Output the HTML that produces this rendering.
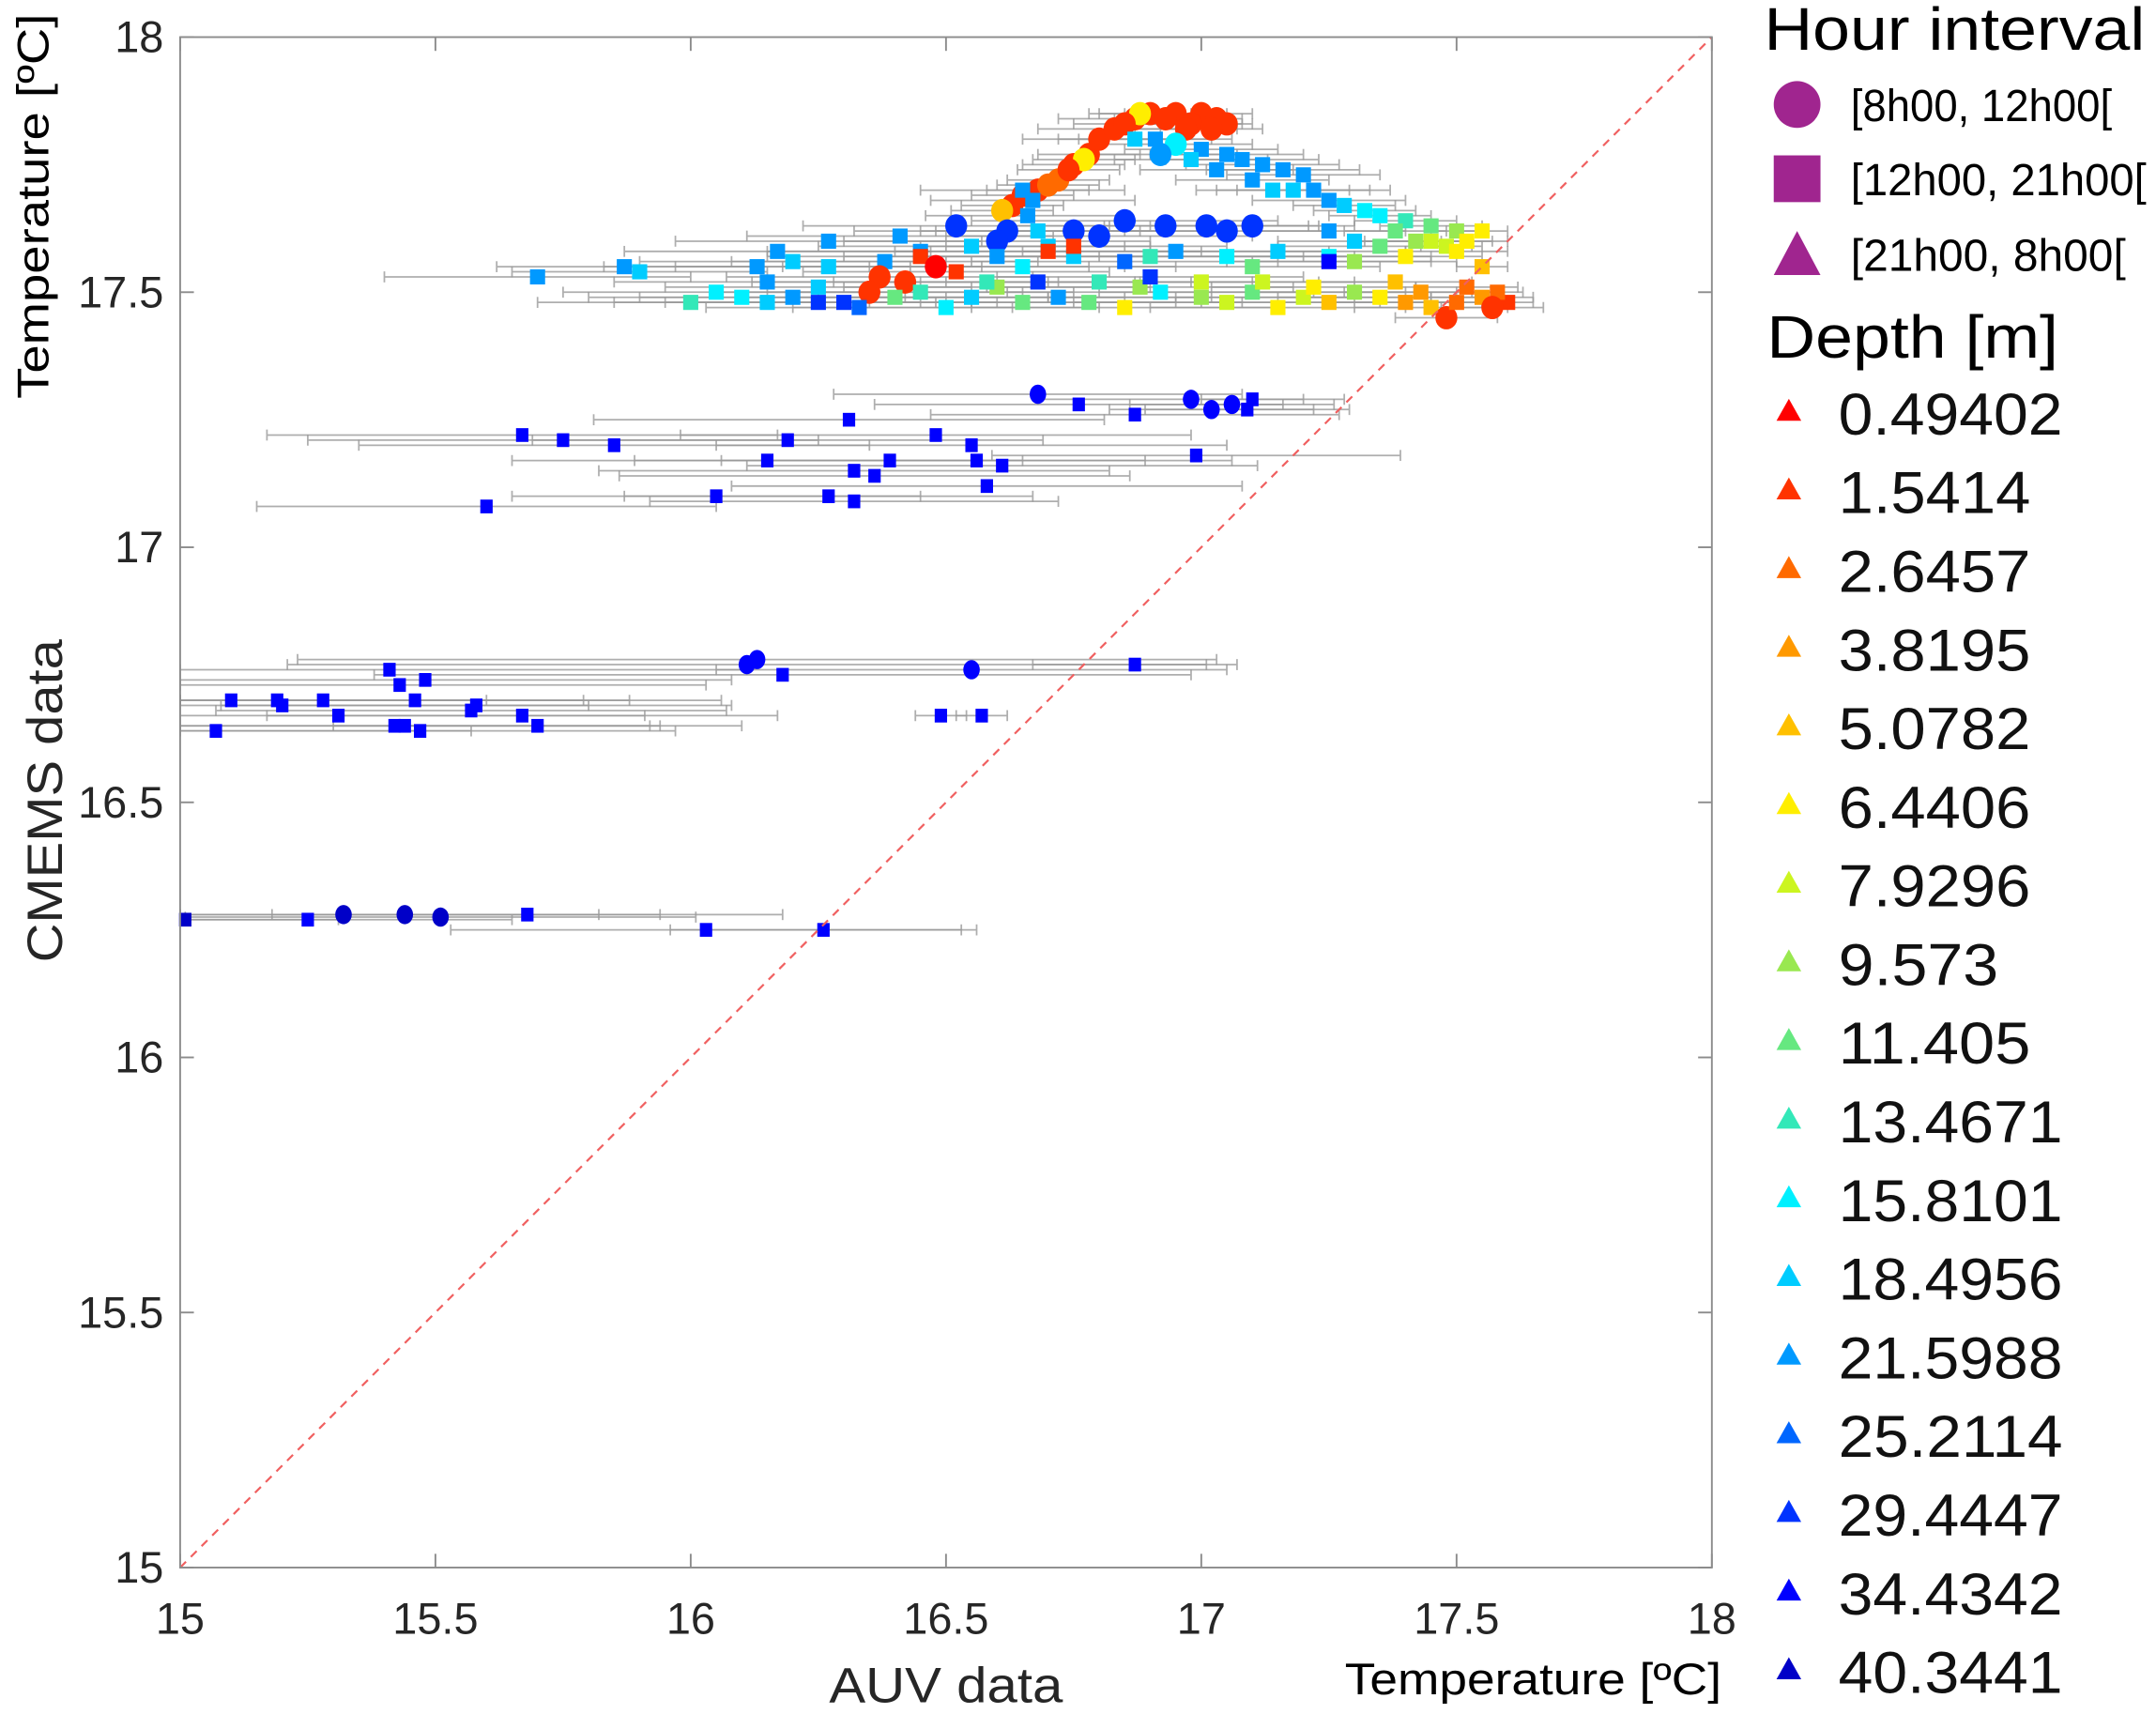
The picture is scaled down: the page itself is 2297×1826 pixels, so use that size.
<!DOCTYPE html>
<html><head><meta charset="utf-8"><style>
html,body{margin:0;padding:0;background:#fff;}
svg{display:block;font-family:"Liberation Sans",Arial,sans-serif;}
</style></head><body>
<svg id="chart" width="2297" height="1826" viewBox="0 0 1568 1246.5" xmlns="http://www.w3.org/2000/svg">
<g id="errs"></g>
<g id="marks"></g>
<g id="axes"></g>
<g id="legend"></g>
</svg>
<script>
const depthLabels=["0.49402","1.5414","2.6457","3.8195","5.0782","6.4406","7.9296","9.573","11.405","13.4671","15.8101","18.4956","21.5988","25.2114","29.4447","34.4342","40.3441"];
const depthColors=["#ff0000","#ff3300","#ff6a00","#ff9900","#ffc000","#ffee00","#ccf520","#99e850","#66e880","#33e8b8","#00f0ff","#00ccff","#0099ff","#0066ff","#0033ff","#0000ff","#0000c8"];
const xTicks=[15,15.5,16,16.5,17,17.5,18];
const yTicks=[15,15.5,16,16.5,17,17.5,18];
const xTickLabels=["15","15.5","16","16.5","17","17.5","18"];
const yTickLabels=["15","15.5","16","16.5","17","17.5","18"];
// AUV (x) values
const auvVals=[
15.01,15.25,15.32,15.44,15.51,15.68,16.03,16.26,
15.07,15.10,15.19,15.20,15.28,15.31,15.41,15.43,15.42,15.44,15.46,15.48,15.47,15.57,15.58,15.67,15.70,16.11,16.13,16.18,16.55,16.49,16.57,16.87,
15.60,15.67,15.75,15.85,16.05,16.15,16.19,16.27,16.31,16.32,16.32,16.36,16.39,16.48,16.55,16.56,16.58,16.61,16.68,16.76,16.87,16.98,16.99,17.02,17.06,17.09,17.10,
16.63,16.65,16.68,16.72,16.75,16.78,16.80,16.83,16.87,16.90,16.95,17.00,17.03,17.05,16.93,16.98,16.88,16.77,16.61,16.70,16.74,16.85,16.97,17.02,
16.87,16.91,16.95,17.00,17.05,17.08,17.12,17.16,17.20,17.18,17.22,17.25,17.28,17.32,17.35,17.40,17.45,17.50,17.55,17.25,17.30,16.92,16.98,17.03,17.10,17.14,17.38,17.42,17.48,17.52,
16.65,16.67,16.68,16.70,16.66,
16.52,16.62,16.75,16.85,16.93,17.01,17.05,17.10,16.60,16.80,
15.70,15.87,15.90,16.13,16.17,16.27,16.27,16.38,16.41,16.55,16.60,16.75,16.85,16.95,17.05,17.15,17.25,17.35,17.45,17.50,16.20,16.45,16.65,16.90,17.10,17.30,17.40,17.55,
16.37,16.35,16.45,16.70,16.75,16.48,16.42,16.52,
16.00,16.05,16.15,16.20,16.30,16.33,16.40,16.45,16.50,16.55,16.65,16.72,16.78,16.85,16.92,17.00,17.05,17.10,17.15,17.20,17.25,17.30,17.35,17.40,17.45,17.48,17.50,17.55,17.60,17.58,17.00,16.80,16.60,16.15,16.10,16.25,16.58,16.88,17.12,17.22,17.38,17.43,17.52,17.57,
16.68,16.90,17.25,16.25];
// CMEMS (y) values
const cmemsVals=[
16.27,16.27,16.28,16.28,16.275,16.28,16.25,16.25,
16.64,16.70,16.70,16.69,16.70,16.67,16.76,16.73,16.65,16.65,16.70,16.74,16.64,16.68,16.69,16.67,16.65,16.77,16.78,16.75,16.76,16.67,16.67,16.77,
17.08,17.22,17.21,17.20,17.10,17.17,17.21,17.10,17.25,17.15,17.09,17.14,17.17,17.22,17.20,17.17,17.12,17.16,17.30,17.28,17.26,17.29,17.18,17.27,17.28,17.27,17.29,
17.67,17.69,17.70,17.72,17.75,17.77,17.80,17.82,17.84,17.85,17.85,17.85,17.84,17.83,17.84,17.83,17.85,17.76,17.66,17.71,17.74,17.83,17.82,17.82,
17.80,17.80,17.79,17.78,17.77,17.76,17.75,17.74,17.73,17.70,17.70,17.68,17.67,17.66,17.65,17.64,17.63,17.62,17.62,17.62,17.60,17.77,17.76,17.74,17.72,17.70,17.62,17.60,17.59,17.60,
17.70,17.68,17.62,17.59,17.65,
17.63,17.62,17.62,17.64,17.63,17.63,17.62,17.63,17.60,17.61,
17.53,17.55,17.54,17.55,17.58,17.55,17.60,17.56,17.61,17.59,17.57,17.57,17.56,17.58,17.57,17.58,17.57,17.59,17.60,17.58,17.56,17.58,17.55,17.57,17.55,17.56,17.57,17.55,
17.53,17.50,17.57,17.58,17.59,17.55,17.52,17.54,
17.48,17.50,17.48,17.49,17.48,17.47,17.49,17.50,17.47,17.49,17.48,17.49,17.48,17.47,17.50,17.49,17.48,17.50,17.47,17.49,17.48,17.50,17.49,17.48,17.47,17.45,17.48,17.49,17.48,17.50,17.52,17.52,17.51,17.52,17.49,17.51,17.52,17.51,17.52,17.51,17.52,17.50,17.51,17.47,
17.52,17.53,17.56,17.48];
// error half-widths (deg C)
const errVals=[
0.3,0.4,0.5,0.5,0.5,0.5,0.5,0.3,
0.5,0.5,0.6,0.6,0.6,0.6,0.7,0.6,0.5,0.5,0.6,0.6,0.5,0.5,0.5,0.5,0.4,0.9,0.9,0.8,0.5,0.05,0.05,0.2,
0.45,0.5,0.5,0.5,0.4,0.5,0.5,0.4,0.5,0.5,0.4,0.5,0.5,0.5,0.5,0.5,0.5,0.5,0.4,0.4,0.4,0.3,0.4,0.2,0.2,0.2,0.1,
0.1,0.1,0.1,0.1,0.1,0.1,0.15,0.15,0.15,0.1,0.1,0.1,0.05,0.05,0.1,0.1,0.1,0.1,0.1,0.1,0.1,0.1,0.1,0.1,
0.15,0.15,0.15,0.15,0.15,0.15,0.15,0.15,0.15,0.15,0.15,0.15,0.1,0.1,0.1,0.1,0.1,0.05,0.05,0.15,0.15,0.15,0.15,0.15,0.15,0.15,0.1,0.1,0.05,0.05,
0.2,0.2,0.2,0.2,0.2,
0.3,0.3,0.3,0.3,0.3,0.2,0.2,0.2,0.3,0.3,
0.3,0.25,0.25,0.3,0.3,0.3,0.3,0.3,0.3,0.3,0.3,0.3,0.3,0.3,0.25,0.25,0.2,0.2,0.15,0.1,0.3,0.3,0.3,0.3,0.25,0.2,0.15,0.05,
0.3,0.3,0.3,0.3,0.3,0.3,0.3,0.3,
0.3,0.3,0.3,0.3,0.3,0.3,0.3,0.3,0.3,0.3,0.3,0.3,0.3,0.3,0.3,0.3,0.3,0.3,0.25,0.25,0.25,0.2,0.2,0.15,0.15,0.1,0.1,0.1,0.05,0.05,0.3,0.3,0.3,0.3,0.3,0.3,0.3,0.3,0.25,0.2,0.15,0.15,0.1,0.1,
0.3,0.3,0.2,0.3];
// depth class index into depthColors
const depthIdx=[
16,15,16,16,16,15,15,15,
15,15,15,15,15,15,15,15,15,15,15,15,15,15,15,15,15,15,15,15,15,15,15,15,
15,15,15,15,15,15,15,15,15,15,15,15,15,15,15,15,15,15,15,15,15,15,15,15,15,15,15,
1,1,1,2,1,1,1,1,1,1,1,1,1,1,1,1,5,5,4,2,1,1,1,1,
11,12,10,12,12,12,12,12,12,11,12,12,11,10,10,9,8,7,5,12,11,12,11,12,12,11,8,7,6,5,
12,12,11,11,12,
14,14,14,14,14,14,14,14,14,14,
12,12,11,12,12,11,12,12,12,11,12,11,13,12,10,11,10,8,6,5,11,12,10,9,8,7,5,4,
1,1,1,1,1,0,1,1,
9,10,11,12,14,13,8,9,10,11,8,12,8,5,10,7,6,8,5,6,4,7,5,3,4,1,2,3,1,2,6,9,7,12,10,11,9,7,6,5,4,3,2,1,
14,14,15,14];
// 0 = circle [8h00,12h00[, 1 = square [12h00,21h00[
const shapeVals=[
1,1,0,0,0,1,1,1,
1,1,1,1,1,1,1,1,1,1,1,1,1,1,1,1,1,0,0,1,0,1,1,1,
1,1,1,1,1,1,1,1,1,1,1,1,1,1,1,1,1,1,0,1,1,0,1,0,0,1,1,
0,0,0,0,0,0,0,0,0,0,0,0,0,0,0,0,0,0,0,0,0,0,0,0,
1,1,0,1,1,1,1,1,1,1,1,1,1,1,1,1,1,1,1,1,1,0,1,1,1,1,1,1,1,1,
1,1,1,1,1,
0,0,0,0,0,0,0,0,0,0,
1,1,1,1,1,1,1,1,1,1,1,1,1,1,1,1,1,1,1,1,1,1,1,1,1,1,1,1,
0,0,1,1,1,0,0,1,
1,1,1,1,1,1,1,1,1,1,1,1,1,1,1,1,1,1,1,1,1,1,1,1,1,0,1,1,1,1,1,1,1,1,1,1,1,1,1,1,1,1,1,0,
1,1,1,1];

const L=131,R=1245,T=27,B=1140;
const xs=v=>L+(v-15)/3*(R-L);
const ys=v=>B-(v-15)/3*(B-T);
const NS="http://www.w3.org/2000/svg";
function mk(tag,attrs,parent,text){const e=document.createElementNS(NS,tag);for(const k in attrs)e.setAttribute(k,attrs[k]);if(text!==undefined)e.textContent=text;parent.appendChild(e);return e;}
const gE=document.getElementById('errs'),gM=document.getElementById('marks'),gA=document.getElementById('axes'),gL=document.getElementById('legend');

const fr=mk('rect',{x:L,y:T,width:R-L,height:B-T,fill:'none',stroke:'#8c8c8c','stroke-width':1.3},gA);


const diag=mk('line',{x1:xs(15),y1:ys(15),x2:xs(18),y2:ys(18),stroke:'#f06060','stroke-width':1.5,'stroke-dasharray':'6,5'},gA);



xTicks.forEach((v,i)=>{
  mk('line',{x1:xs(v),y1:B,x2:xs(v),y2:B-10,stroke:'#8c8c8c','stroke-width':1.3},gA);
  mk('line',{x1:xs(v),y1:T,x2:xs(v),y2:T+10,stroke:'#8c8c8c','stroke-width':1.3},gA);
  const t=mk('text',{x:xs(v),y:1188,'font-size':32,'text-anchor':'middle',fill:'#262626'},gA,xTickLabels[i]);
  
  
});
yTicks.forEach((v,i)=>{
  mk('line',{x1:L,y1:ys(v),x2:L+10,y2:ys(v),stroke:'#8c8c8c','stroke-width':1.3},gA);
  mk('line',{x1:R,y1:ys(v),x2:R-10,y2:ys(v),stroke:'#8c8c8c','stroke-width':1.3},gA);
  const t=mk('text',{x:119,y:ys(v)+11,'font-size':32,'text-anchor':'end',fill:'#262626'},gA,yTickLabels[i]);
  
  
});
let t;
t=mk('text',{x:603,y:1238,'font-size':36,fill:'#262626',textLength:170,lengthAdjust:'spacingAndGlyphs'},gA,'AUV data');


t=mk('text',{x:978,y:1232,'font-size':32,fill:'#000',textLength:274,lengthAdjust:'spacingAndGlyphs'},gA,'Temperature [ºC]');


t=mk('text',{x:0,y:0,'font-size':36,fill:'#262626',textLength:235,lengthAdjust:'spacingAndGlyphs',transform:'translate(45,700) rotate(-90)'},gA,'CMEMS data');


t=mk('text',{x:0,y:0,'font-size':32,fill:'#000',textLength:280,lengthAdjust:'spacingAndGlyphs',transform:'translate(35,290) rotate(-90)'},gA,'Temperature [ºC]');



for(let i=0;i<auvVals.length;i++){
  const y=ys(cmemsVals[i]),x1=xs(Math.max(15,auvVals[i]-errVals[i])),x2=xs(auvVals[i]+errVals[i]);
  const g=mk('g',{stroke:'#9a9a9a','stroke-width':1.2,opacity:0.8},gE);
  
  
  mk('line',{x1:x1,y1:y,x2:x2,y2:y},g);
  mk('line',{x1:x1,y1:y-4,x2:x1,y2:y+4},g);
  mk('line',{x1:x2,y1:y-4,x2:x2,y2:y+4},g);
}
for(let i=0;i<auvVals.length;i++){
  const x=xs(auvVals[i]),y=ys(cmemsVals[i]),c=depthColors[depthIdx[i]];
  const big=cmemsVals[i]>17.4;
  let m;
  if(shapeVals[i]===0) m=mk('ellipse',{cx:x,cy:y,rx:big?8:6,ry:big?8.5:7,fill:c},gM);
  else {const w=big?11:9,h=big?11:10;m=mk('rect',{x:x-w/2,y:y-h/2,width:w,height:h,fill:c},gM);}
  
  
}

t=mk('text',{x:1283,y:36,'font-size':44,fill:'#000',textLength:277,lengthAdjust:'spacingAndGlyphs'},gL,'Hour interval');


const hourLabels=["[8h00, 12h00[","[12h00, 21h00[","[21h00, 8h00["];
const hourLens=[190,215,200];
const hy=[76,130,185];
let s;
s=mk('circle',{cx:1307,cy:76,r:17,fill:'#a0258f'},gL);


s=mk('rect',{x:1290,y:113,width:34,height:34,fill:'#a0258f'},gL);


s=mk('polygon',{points:'1307,168 1290,200 1324,200',fill:'#a0258f'},gL);


hourLabels.forEach((h,i)=>{
  const tt=mk('text',{x:1346,y:hy[i]+12,'font-size':33,fill:'#000',textLength:hourLens[i],lengthAdjust:'spacingAndGlyphs'},gL,h);
  
  
});
t=mk('text',{x:1285,y:260,'font-size':44,fill:'#000',textLength:212,lengthAdjust:'spacingAndGlyphs'},gL,'Depth [m]');


depthLabels.forEach((d,i)=>{
  const y=300+i*57.2;
  const tri=mk('polygon',{points:`1301,${y-10} 1292,${y+6} 1310,${y+6}`,fill:depthColors[i]},gL);
  
  
  const tt=mk('text',{x:1337,y:y+16,'font-size':43,fill:'#111',textLength:d.length*23.3,lengthAdjust:'spacingAndGlyphs'},gL,d);
  
  
});
</script>
</body></html>
